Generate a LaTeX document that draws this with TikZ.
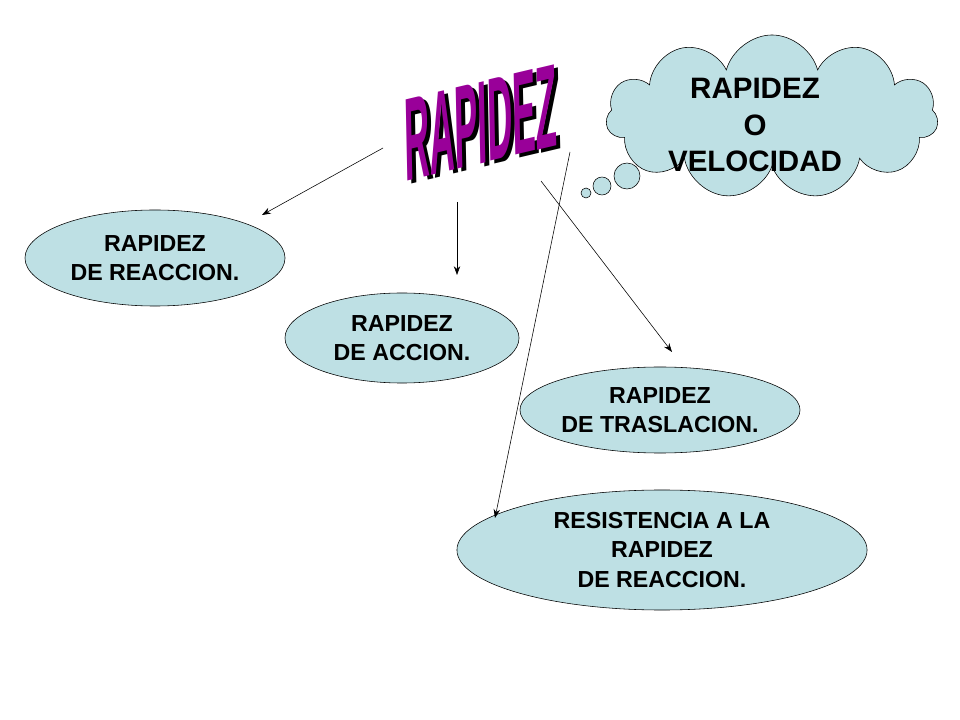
\documentclass[tikz,border=0pt]{standalone}
\usepackage{fontspec}
\setmainfont{Liberation Sans}
\usetikzlibrary{shapes.geometric,shapes.symbols,arrows.meta}
\definecolor{oval}{RGB}{190,224,228}
\begin{document}
\begin{tikzpicture}[x=0.025cm,y=-0.025cm,
    oval/.style={ellipse,draw,fill=oval,inner sep=0pt,align=center,font=\bfseries\fontsize{16.5}{21}\selectfont},
    arrow/.style={-{Stealth[length=2.2mm,width=1.6mm]}}
]
    \useasboundingbox (0,0) rectangle (960,720);
    \node[oval,minimum width=6.5cm,minimum height=2.4cm] (reaccion) at (155,258) {RAPIDEZ\\DE REACCION.};
    \node[oval,minimum width=5.85cm,minimum height=2.25cm] (accion) at (402,338) {RAPIDEZ\\DE ACCION.};
    \node[oval,minimum width=7cm,minimum height=2.15cm] (traslacion) at (660,410) {RAPIDEZ\\DE TRASLACION.};
    \node[oval,minimum width=10.25cm,minimum height=3cm] (resistencia) at (662,550) {RESISTENCIA A LA\\RAPIDEZ\\DE REACCION.};
    % nube
    \node[cloud,cloud puffs=11,draw,fill=oval,inner sep=0pt,minimum width=8.3cm,minimum height=4.1cm,cloud ignores aspect] (nube) at (772,117) {};
    \node[align=center,font=\bfseries\fontsize{21}{26}\selectfont] (velocidad) at (755,125) {RAPIDEZ\\O\\VELOCIDAD};
    \draw[fill=oval] (627,176) circle (13);
    \draw[fill=oval] (602,186) circle (9);
    \draw[fill=oval] (586,193) circle (5);
    % titulo
    \node[font=\bfseries\fontsize{40}{40}\selectfont,yscale=2.1,xscale=0.62,rotate=4,text=black] at (485,126) {RAPIDEZ};
    \node[font=\bfseries\fontsize{40}{40}\selectfont,yscale=2.1,xscale=0.62,rotate=4,text=violet!80!magenta] (titulo) at (481,123) {RAPIDEZ};
    % flechas
    \coordinate (a1) at (383,148);
    \coordinate (a2) at (457,202);
    \coordinate (a3) at (541,181);
    \coordinate (a4) at (570,152);
    \coordinate (b1) at (262,215);
    \coordinate (b2) at (457,275);
    \coordinate (b3) at (672,352);
    \coordinate (b4) at (495,518);
    \draw[arrow] (a1) -- (b1);
    \draw[arrow] (a2) -- (b2);
    \draw[arrow] (a3) -- (b3);
    \draw[arrow] (a4) -- (b4);
\end{tikzpicture}
\end{document}
